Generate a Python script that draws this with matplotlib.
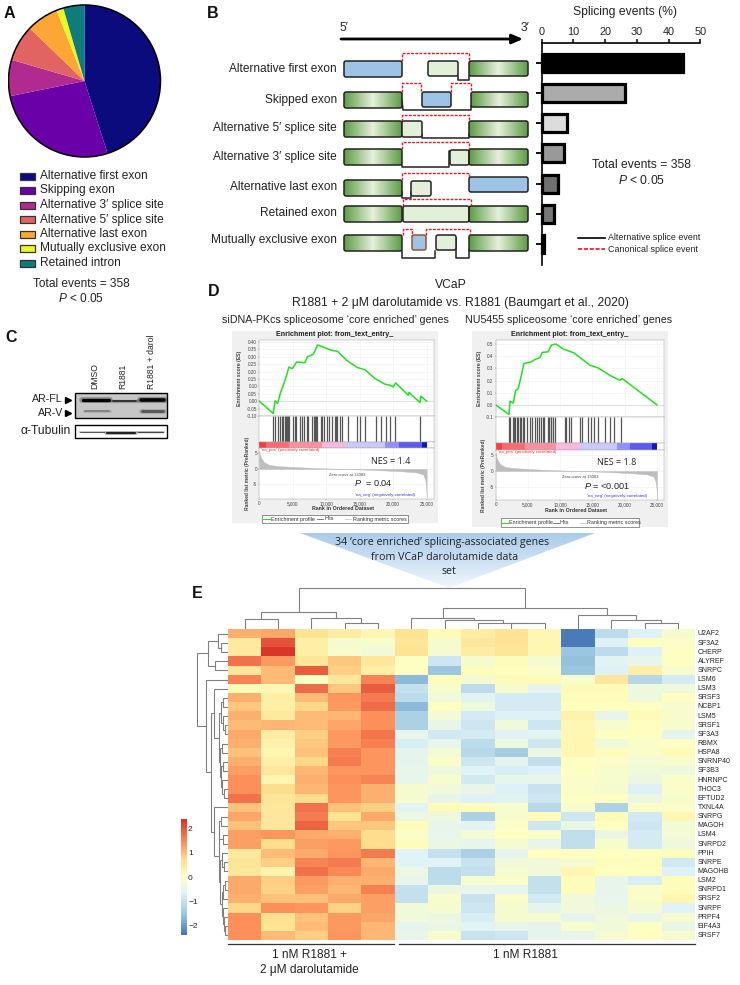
import numpy as np
import matplotlib
matplotlib.use('Agg')
import matplotlib.pyplot as plt
from matplotlib.colors import LinearSegmentedColormap
from matplotlib.patches import Polygon, Rectangle, FancyBboxPatch, Circle

plt.rcParams['font.family'] = ['Liberation Sans', 'DejaVu Sans']
plt.rcParams['mathtext.fontset'] = 'custom'
plt.rcParams['mathtext.rm'] = 'Liberation Sans'
plt.rcParams['mathtext.it'] = 'Liberation Sans:italic'
plt.rcParams['mathtext.bf'] = 'Liberation Sans:bold'

W, H = 740, 985

# ---------- data ----------
pie_labels = ['Alternative first exon', 'Skipping exon', 'Alternative 3′ splice site',
              'Alternative 5′ splice site', 'Alternative last exon',
              'Mutually exclusive exon', 'Retained intron']
pie_values = [45.1, 26.7, 7.7, 7.7, 6.8, 1.5, 4.5]
pie_colors = ['#0B0B7E', '#6A00A8', '#B12A90', '#E16462', '#FCA636', '#EFF51F', '#0F7B7B']

bar_labels = ['Alternative first exon', 'Skipped exon', 'Alternative 5′ splice site',
              'Alternative 3′ splice site', 'Alternative last exon', 'Retained exon',
              'Mutually exclusive exon']
bar_values = [44.5, 26.2, 8.0, 7.1, 5.1, 3.8, 0.7]
bar_fills = ['#000000', '#ABABAB', '#DCDCDC', '#999999', '#707070', '#777777', '#DDDDDD']
bar_ticks = [0, 10, 20, 30, 40, 50]

left_es_rank = [0, 2090, 2340, 2740, 3190, 3590, 3980, 4430, 4930, 5580, 6820, 7170, 8070, 8710,
                9310, 10800, 11700, 13050, 14690, 15790, 17280, 18770, 19520, 20020, 20370,
                22260, 22360, 24000, 24150, 25000]
left_es = [0, -.083, .002, -.015, .06, .108, .16, .231, .22, .265, .26, .30, .317, .38, .37, .344,
           .337, .276, .227, .213, .153, .115, .108, .097, .124, .04, .06, -.009, .034, 0]
right_es_rank = [0, 2060, 2220, 2730, 3090, 3500, 3920, 4380, 5570, 6080, 6860, 7220, 8140, 8660,
                 9330, 10460, 12110, 14590, 15880, 17680, 19230, 19640, 25000]
right_es = [0, -.08, .03, .014, .119, .133, .229, .34, .354, .373, .387, .431, .436, .492, .5,
            .459, .428, .326, .304, .243, .202, .215, 0]
left_hits = [1990, 2340, 2740, 3090, 3340, 3590, 3830, 3980, 4180, 4330, 4430, 5080, 5330, 5480, 6080,
             6420, 6720, 7070, 7320, 7920, 8120, 8320, 8470, 8620, 9210, 9410, 9660, 10060, 10460,
             10810, 11300, 11400, 11600, 12050, 12300, 13300, 14540, 15040, 15740, 17430, 18130,
             18870, 19520, 20270, 24000]
right_hits = [2010, 2210, 2630, 2830, 3040, 3240, 3500, 3760, 3970, 4170, 4380, 4890, 5300, 5560, 6130,
              6440, 6750, 6950, 7260, 7470, 8140, 8290, 8500, 8650, 8910, 9220, 10710, 10970, 11380,
              11740, 13130, 13440, 14320, 14830, 15190, 15860, 16890, 17660, 18280, 19470]
metric_rank = [0, 100, 300, 700, 1500, 3000, 6000, 10000, 13083, 17000, 21000, 23500, 24500, 24800, 24950, 25000]
metric_val = [5.8, 4.6, 3.5, 2.2, 1.3, .9, .55, .2, 0, -.3, -.7, -1.1, -1.8, -3.5, -6, -9]
band_edges = [0, 1000, 4500, 9300, 13000, 18800, 20800, 24300, 25000]
band_colors = ['#FF3C3C', '#FF6A6F', '#FF8F9F', '#F9B9DC', '#C9C9FB', '#8F8FFF', '#5A5AF0', '#1414C0']

genes = ['U2AF2', 'SF3A2', 'CHERP', 'ALYREF', 'SNRPC', 'LSM6', 'LSM3', 'SRSF3', 'NCBP1', 'LSM5', 'SRSF1',
         'SF3A3', 'RBMX', 'HSPA8', 'SNRNP40', 'SF3B3', 'HNRNPC', 'THOC3', 'EFTUD2', 'TXNL4A', 'SNRPG',
         'MAGOH', 'LSM4', 'SNRPD2', 'PPIH', 'SNRPE', 'MAGOHB', 'LSM2', 'SNRPD1', 'SRSF2', 'SNRPF', 'PRPF4',
         'EIF4A3', 'SRSF7']
heat = [
    [1.1, 1.2, .6, .4, .15, .6, .1, .4, .6, .15, -2.3, -1.1, -.7, -.2],
    [.45, 2.0, .35, -.2, -.15, .55, -.2, .5, .6, .15, -2.3, -.7, 0, -.1],
    [.45, 2.3, .35, -.15, -.3, .6, -.2, .4, .55, .15, -1.5, -1.1, -.7, -.05],
    [1.7, 1.3, .55, .9, .5, -.05, -.9, -.2, .05, -.2, -1.6, -.6, -.5, -.05],
    [.5, 1.0, 1.9, .85, .35, -.05, -1.5, .05, 0, -.1, -1.5, -.7, .35, -.15],
    [1.5, 1.0, -.05, .5, 1.5, -1.7, .05, -.25, .1, .1, -.15, .5, -1.2, -.8],
    [.1, .15, 1.75, .9, 1.9, -1.0, -.15, -1.1, -.2, -.55, .1, .1, -.35, -.3],
    [1.1, .35, 1.0, 1.35, 1.6, -1.1, -.3, -.6, -.8, -.8, .05, .05, -.35, -.05],
    [.9, .35, .75, 1.3, 1.75, -1.7, -.05, -.35, -.8, -.8, 0, 0, 0, -.15],
    [1.1, .45, 1.0, 1.05, 1.4, -1.3, -.25, -.8, -.7, -.7, .25, -.5, .1, -.15],
    [1.0, 1.05, 1.0, 1.2, 1.4, -1.3, -.45, -.9, -.3, -.9, .15, -.15, 0, -.15],
    [1.15, .4, .85, 1.3, 1.65, -.5, -.85, -.8, -.7, -.6, .15, -.05, 0, -.55],
    [1.1, .3, .9, 1.3, 1.55, -.75, -.5, -1.1, -.35, -.9, .2, -.3, -.1, -.05],
    [.95, .2, .95, 1.55, 1.35, -.55, -.25, -1.15, -1.4, -.4, .15, .05, -.1, .1],
    [1.1, .35, .75, 1.6, 1.35, -.55, -.1, -.9, -.55, -1.05, -.05, -.1, -.25, -.15],
    [1.25, .5, 1.05, 1.35, 1.35, -.5, -.35, -.65, -.75, -.7, -.05, -.15, -.3, -.35],
    [1.4, .2, 1.1, 1.4, 1.5, -.5, -.15, -.85, -.5, -.5, -.1, -.15, -.4, -.1],
    [1.4, .7, 1.05, 1.35, 1.1, -.2, -.3, -.45, -.7, -.95, -.1, -.2, -.7, -.1],
    [1.7, .55, .7, 1.35, 1.1, -.2, -.5, -.7, -.6, -.9, -.05, -.05, -.4, -.15],
    [.95, .5, 1.7, .95, .85, -.6, .1, .05, -.15, -1.15, -.15, -1.3, -.1, -.1],
    [1.2, .5, 1.6, .6, 1.15, -.4, -.35, -1.3, -.15, .1, -.9, .1, -.85, .15],
    [.95, .5, 1.85, .9, .9, .05, -.5, -.6, -.1, -.9, -.45, 0, -.9, -.25],
    [1.25, 1.35, 1.15, 1.1, .7, -.1, -.5, -.25, -.05, -.1, -1.05, -.4, -.8, -.25],
    [1.25, .7, 1.25, 1.3, .7, .05, -.4, -.5, -.2, -.5, -1.05, -.15, -.8, -.35],
    [.45, 1.0, 1.15, 1.35, 1.6, -.65, -1.0, -1.3, -.55, 0, 0, 0, 0, .05],
    [.55, .85, 1.5, 1.6, 1.05, -.65, -.65, -.95, -.3, -.3, -.2, .05, .05, -.85],
    [.5, .25, 1.7, 1.45, 1.15, -.4, -1.1, -1.0, -.2, -.3, .2, 0, 0, -.7],
    [1.15, .85, 1.3, 1.1, 1.1, -.5, -1.1, -.2, -.1, -1.0, .05, -.5, -.75, .05],
    [1.15, .8, 1.25, 1.05, 1.55, -1.0, -.4, -.5, -.55, -1.0, .05, -.5, -.1, .05],
    [1.1, .95, .95, 1.15, 1.25, -1.0, -.15, -.95, -.1, -.85, -.3, -.5, -.1, .2],
    [.75, 1.4, 1.35, .8, 1.25, -.3, -.2, -.9, -.2, -.55, -.3, -.4, -.2, -.65],
    [1.4, .65, .95, 1.3, 1.2, -.3, -.4, -.75, -.2, -.2, -.55, -.3, -.5, -.2],
    [1.4, .6, 1.0, 1.3, 1.05, -.55, -.45, -.6, -.5, -.55, -.15, -.3, -.05, -.45],
    [1.4, 1.0, .85, 1.35, 1.05, -.5, -.15, -.95, -.9, -.55, -.5, -.2, -.05, -.2],
]
col_tree = (41, (17.3, (10.7, 0, 1), (11.7, 2, (6.7, 3, 4))),
            (21.7, (11.7, 5, (9, 6, (6.7, 7, (6.7, 8, 9)))), (14, 10, (9, 11, (6.7, 12, 13)))))
row_s1 = (9, (7, (5, 7, 8), (5.5, 9, (3, 10, 11))),
          (8, (6, 12, 13), (7, (5, 14, 15), (6, 16, (4, 17, 18)))))
row_s2 = (8.7, (7, 20, 21), (5, 22, 23))
row_s3 = (8, (6, 24, (4, 25, 26)),
          (6.5, (5.5, (3, 27, 28), 29), (5.5, 30, (4, 31, (3, 32, 33)))))
row_tree = (31, (20, (10, 0, (7, 1, 2)), (13, 3, 4)),
            (22, 5, (17, (14, 6, row_s1), (14, 19, (9.5, row_s2, row_s3)))))
heat_limit = 2.37
heat_cmap = LinearSegmentedColormap.from_list(
    'rdylbu', [(0, '#4575B4'), (.15, '#91BFDB'), (.36, '#E0F3F8'), (.5, '#FFFFBF'),
               (.645, '#FEE090'), (.80, '#FC8D59'), (1, '#D73027')])

# ---------- helpers ----------
fig = plt.figure(figsize=(W / 100, H / 100), dpi=100, facecolor='white')


def px_axes(x0, y0, x1, y1, **kw):
    return fig.add_axes([x0 / W, 1 - y1 / H, (x1 - x0) / W, (y1 - y0) / H], **kw)


def overlay(z):
    a = px_axes(0, 0, W, H, zorder=z)
    a.set_xlim(0, W)
    a.set_ylim(H, 0)
    a.autoscale(False)
    a.axis('off')
    a.patch.set_alpha(0)
    return a


bg = overlay(0)
fg = overlay(20)


def txt(x, y, s, size=8.55, ha='center', va='center', a=None, **kw):
    (a or fg).text(x, y, s, fontsize=size, ha=ha, va=va, **kw)


# ---------- panel letters ----------
for lab, x, y in [('A', 9.5, 13), ('B', 213, 13), ('C', 11, 338), ('D', 214, 292), ('E', 197.5, 594)]:
    txt(x, y, lab, size=11.5, weight='bold', color='#111')

# ---------- A ----------
ax = px_axes(7.5, 4, 161.5, 158)
ax.pie(pie_values, colors=pie_colors, startangle=90, counterclock=False, radius=1)
ax.add_patch(Circle((0, 0), 1, fill=False, ec='black', lw=1.1))
ax.set_xlim(-1.013, 1.013)
ax.set_ylim(-1.013, 1.013)
ax.set_aspect('auto')
for i, (lab, col) in enumerate(zip(pie_labels, pie_colors)):
    y = 176 + i * 14.5
    fg.add_patch(Rectangle((19.5, y - 3.5), 15.5, 7, fc=col, ec='#333', lw=0.9))
    txt(40, y, lab, ha='left', color='#222')
txt(81, 284, 'Total events = 358', color='#222')
txt(81, 298, r'$\mathit{P}$ < 0.05', color='#222')

# ---------- B schematic ----------
GREEN = LinearSegmentedColormap.from_list('g', ['#5E9D46', '#E6F1DC', '#5E9D46'])
grad = np.linspace(0, 1, 64).reshape(1, -1)


def exon(x0, x1, y0, y1, kind='g', ec='#222'):
    fill = {'g': 'none', 'b': '#9DC3E6', 'l': '#E2EFD9'}[kind]
    p = FancyBboxPatch((x0 + 1, y0 + 1), x1 - x0 - 2, y1 - y0 - 2, boxstyle='round,pad=1,rounding_size=2',
                       fc=fill, ec=ec, lw=1.1, zorder=4, mutation_aspect=1)
    fg.add_patch(p)
    if kind == 'g':
        im = fg.imshow(grad, cmap=GREEN, extent=(x0, x1, y1, y0), aspect='auto', zorder=3)
        im.set_clip_path(p)


def path(xs, ys, red=False):
    if red:
        fg.plot(xs, ys, color='#E8141C', lw=1.0, ls=(0, (2, 1)), zorder=5)
    else:
        fg.plot(xs, ys, color='#222', lw=1.1, zorder=2)


rows = [
    [(344, 402, 61, 77, 'b'), (428, 458, 61, 76, 'l'), (469, 528, 61, 76, 'g')],
    [(344, 402, 92, 108, 'g'), (422, 451, 92, 107, 'b'), (471, 528, 92, 107, 'g')],
    [(344, 402, 121, 137, 'g'), (402, 422, 121, 137, 'l'), (469, 528, 121, 137, 'g')],
    [(344, 402, 149, 165, 'g'), (450, 469, 150, 165, 'l'), (469, 528, 149, 165, 'g')],
    [(344, 402, 180, 196, 'g'), (411, 431, 181, 196, 'l'), (469, 528, 177, 192, 'b')],
    [(344, 402, 206, 222, 'g'), (403, 469, 206, 222, 'l'), (469, 528, 206, 222, 'g')],
    [(344, 402, 235, 251, 'g'), (436, 456, 235, 250, 'l'), (469, 528, 235, 251, 'g')],
]
for r in rows:
    for x0, x1, y0, y1, k in r:
        exon(x0, x1, y0, y1, k)
exon(412, 426, 235, 250, 'b', ec='#A0522D')
black_paths = [
    ([458, 458, 469, 469], [76, 80, 80, 76]),
    ([402, 403, 471, 471], [100, 110, 110, 106]),
    ([422, 422, 469, 469], [134, 138, 138, 134]),
    ([402, 402, 449, 449, 452], [165, 167, 167, 151, 151]),
    ([402, 402, 411, 411], [192, 198, 198, 192]),
    ([402, 402, 435, 435], [251, 258, 258, 251]),
    ([456, 456, 469, 469], [238, 258, 258, 250]),
]
red_paths = [
    ([402, 402, 469, 469], [61, 53, 53, 61]),
    ([402, 402, 421, 421], [92, 83, 83, 92]),
    ([451, 451, 471, 471], [92, 83, 83, 92]),
    ([402, 402, 469, 469], [121, 115, 115, 121]),
    ([402, 402, 469, 469], [149, 142, 142, 149]),
    ([402, 402, 469, 469], [180, 173, 173, 177]),
    ([403, 403, 471, 471], [206, 199, 199, 206]),
    ([403, 403, 412, 412], [235, 228.5, 228.5, 235]),
    ([426, 426, 470, 470], [235, 228.5, 228.5, 235]),
]
for xs, ys in black_paths:
    path(xs, ys)
for xs, ys in red_paths:
    path(xs, ys, red=True)
fg.annotate('', xy=(523, 39), xytext=(341, 39),
            arrowprops=dict(arrowstyle='-|>,head_length=0.65,head_width=0.28', color='black', lw=2, shrinkA=0, shrinkB=0))
txt(344, 28, '5′', color='#222')
txt(525, 28, '3′', color='#222')
for lab, y in zip(bar_labels, [69, 100, 128, 157, 187, 213, 240]):
    txt(337, y, lab, ha='right', color='#222')

# ---------- B bars ----------
ax = px_axes(541.7, 43, 700.3, 265, zorder=5)
pos = list(range(len(bar_values)))
ax.barh(pos, bar_values, height=0.6, color=bar_fills, edgecolor='black', linewidth=2.3, clip_on=False)
ax.set_xlim(0, 50)
ax.set_ylim(6.7, -0.66)
ax.xaxis.tick_top()
ax.set_xticks(bar_ticks)
ax.set_yticks(pos)
ax.set_yticklabels([])
ax.tick_params(axis='x', length=3, width=1.1, labelsize=7.8, pad=1.5, labelcolor='#222')
ax.tick_params(axis='y', length=4.3, width=1.3)
for s in ['right', 'bottom']:
    ax.spines[s].set_visible(False)
for s in ['top', 'left']:
    ax.spines[s].set_linewidth(1.2)
ax.patch.set_alpha(0)
txt(625, 12, 'Splicing events (%)', size=8.7, color='#222')
txt(641.5, 165, 'Total events = 358', size=8.7, color='#222')
txt(641.5, 180, r'$\mathit{P}$ < 0.05', size=8.7, color='#222')
fg.plot([578, 605], [238, 238], color='black', lw=1.2)
fg.plot([578, 605], [249, 249], color='#E8141C', lw=1.2, ls=(0, (2.5, 1)))
txt(608, 238, 'Alternative splice event', size=6.4, ha='left', color='#222')
txt(608, 249, 'Canonical splice event', size=6.4, ha='left', color='#222')

# ---------- C ----------
fg.add_patch(Rectangle((75, 393), 91.5, 25, fc='#C6C6C6', ec='black', lw=1, zorder=1))
fg.add_patch(Rectangle((75, 425), 91.5, 13, fc='white', ec='black', lw=1, zorder=1))
blot = [(82, 110, 400, 2.4, '#050505'), (112, 137, 400.5, 1.4, '#333'), (140, 165, 400, 2.6, '#050505'),
        (84, 110, 411, 1.3, '#808080'), (141, 164, 411, 2.0, '#555'),
        (79, 105, 432, 0.8, '#555'), (106, 136, 432.5, 1.6, '#222'), (137, 164, 432, 0.9, '#444')]
for x0, x1, y, lw, c in blot:
    fg.plot([x0, x1], [y, y], color=c, lw=lw * 1.7, alpha=0.3, solid_capstyle='round', zorder=2)
    fg.plot([x0 + 1, x1 - 1], [y, y], color=c, lw=lw, solid_capstyle='round', zorder=2)
for lab, x in [('DMSO', 95), ('R1881', 123), ('R1881 + darol', 152)]:
    txt(x, 389, lab, size=6.2, rotation=90, va='bottom', color='#222')
txt(63, 399.5, 'AR-FL', ha='right', size=7.7, color='#222')
txt(63, 413, 'AR-V', ha='right', size=7.7, color='#222')
fg.plot([67.5, 67.5], [399.5, 412.5], ls='', marker='>', ms=4.8, color='black')
txt(71, 431.5, 'α-Tubulin', ha='right', size=8.7, color='#222')

# ---------- D headers ----------
txt(451, 285, 'VCaP', size=8.7, color='#222')
txt(460, 303, 'R1881 + 2 μM darolutamide vs. R1881 (Baumgart et al., 2020)', size=8.7, color='#222')
txt(335.5, 320, 'siDNA-PKcs spliceosome ‘core enriched’ genes', size=7.65, color='#222')
txt(569, 320, 'NU5455 spliceosome ‘core enriched’ genes', size=7.65, color='#222')


def gsea(box, x0, xr, es_y, hit_y, met_y, es_x, es_v, es_lim, es_ticks, tick_fmt, hits, met_lim,
         title_x, ylab_x, ylab2_x, leg, nes, p, note_x):
    bg.add_patch(Rectangle((box[0], box[1]), box[2] - box[0], box[3] - box[1], fc='#F0F0F0', ec='none'))
    txt(title_x, 334.5, 'Enrichment plot: from_text_entry_', size=5.1, weight='bold', color='#222')
    grid = '#EFEFF3'
    ta = px_axes(x0, es_y[0], xr, es_y[1], zorder=3)
    ta.plot(es_x, es_v, color='#22E020', lw=1.1)
    ta.axhline(0, color='#BBBBBB', lw=0.5, zorder=0)
    ta.set_xlim(0, 26100)
    ta.set_ylim(*es_lim)
    ta.set_yticks(es_ticks)
    ta.set_yticklabels([tick_fmt % v for v in es_ticks])
    ta.set_xticks([0, 5000, 10000, 15000, 20000, 25000])
    ta.set_xticklabels([])
    ta.grid(color=grid, lw=0.4)
    ha = px_axes(x0, hit_y[0], xr, hit_y[1], zorder=3)
    ha.vlines(hits, 0, 1, color='#555', lw=0.9)
    ha.set_xlim(0, 26100)
    ha.set_ylim(0, 1)
    ha.set_xticks([])
    ha.set_yticks([])
    ba = px_axes(x0, hit_y[1], xr, met_y[0], zorder=3)
    for i, c in enumerate(band_colors):
        ba.axvspan(band_edges[i], band_edges[i + 1], color=c, lw=0)
    ba.set_xlim(0, 26100)
    ba.set_xticks([])
    ba.set_yticks([])
    ma = px_axes(x0, met_y[0], xr, met_y[1], zorder=3)
    ma.fill_between(metric_rank, metric_val, 0, color='#BDBDBD', lw=0.3)
    ma.set_xlim(0, 26100)
    ma.set_ylim(*met_lim)
    ma.set_yticks([5, 0, -5])
    ma.set_yticklabels(['5', '0', '-5'])
    ma.set_xticks([0, 5000, 10000, 15000, 20000, 25000])
    ma.set_xticklabels(['0', '5,000', '10,000', '15,000', '20,000', '25,000'])
    ma.grid(color=grid, lw=0.4)
    ma.set_axisbelow(True)
    for a in (ta, ha, ba, ma):
        a.tick_params(length=1.0, width=0.3, labelsize=3.3, pad=0.5, color='#666', labelcolor='#444')
        for s in a.spines.values():
            s.set_linewidth(0.35)
            s.set_color('#A8A8A8')
    unit = (xr - x0) / 26100
    txt(x0 + 300 * unit, met_y[0] + 2, "'na_pos' (positively correlated)", ha='left', size=3.2, color='#F03030')
    txt(x0 + 13083 * unit, met_y[0] + 27.5, 'Zero cross at 13083', size=3, color='#444')
    txt(x0 + note_x * unit, met_y[1] - 4, "'na_neg' (negatively correlated)", size=3.2, color='#3A3AF0')
    txt(ylab_x, (es_y[0] + es_y[1]) / 2, 'Enrichment score (ES)', size=3.7, rotation=90, color='#444', weight='bold')
    txt(ylab2_x, (met_y[0] + met_y[1]) / 2, 'Ranked list metric (PreRanked)', size=3.5, rotation=90, color='#444', weight='bold')
    txt(x0 + 12500 * unit, met_y[1] + 10, 'Rank in Ordered Dataset', size=3.8, color='#333', weight='bold')
    lx0, lx1, ly0, ly1 = leg
    fg.add_patch(Rectangle((lx0, ly0), lx1 - lx0, ly1 - ly0, fc='white', ec='#666', lw=0.5))
    ym = (ly0 + ly1) / 2
    f = (lx1 - lx0) / 145.0
    fg.plot([lx0 + f, lx0 + 8 * f], [ym, ym], color='#22E020', lw=0.8)
    txt(lx0 + 9 * f, ym, 'Enrichment profile', size=3.9, ha='left', color='#333')
    fg.plot([lx0 + 55 * f, lx0 + 61 * f], [ym, ym], color='#444', lw=0.5)
    txt(lx0 + 62 * f, ym, 'Hits', size=3.9, ha='left', color='#333')
    fg.plot([lx0 + 83 * f, lx0 + 89 * f], [ym, ym], color='#BBBBBB', lw=0.5)
    txt(lx0 + 91 * f, ym, 'Ranking metric scores', size=3.9, ha='left', color='#333')
    txt(nes[0], nes[1], nes[2], size=6.5, family='Open Sans', color='#222')
    txt(p[0], p[1], p[2], size=6.6, color='#222')


gsea((232, 331, 438, 523), 259.3, 434, (340, 416), (416, 442), (448, 499), left_es_rank, left_es,
     (-.10, .4135), [-.10, -.05, 0, .05, .10, .15, .20, .25, .30, .35, .40], '%.2f', left_hits, (-9.68, 6.77),
     335, 239, 247, (262, 407.7, 515, 523), (391, 461, 'NES = 1.4'), (373, 482.5, r'$\mathit{P}$  = 0.04'), 18800)
gsea((472, 331, 668, 527), 495.7, 664, (340, 417), (417, 443), (450, 500), right_es_rank, right_es,
     (-.10, .533), [-.1, 0, .1, .2, .3, .4, .5], '%.1f', right_hits, (-9.35, 6.77),
     570, 479, 483, (500.7, 639, 518, 527), (617, 462.5, 'NES = 1.8'), (607, 486, r'$\mathit{P}$ = <0.001'), 18800)

# ---------- funnel ----------
tri = Polygon([(300, 533), (595, 533), (449, 588)], closed=True, fc='none', ec='none', transform=bg.transData)
bg.add_patch(tri)
BLUE = LinearSegmentedColormap.from_list('b', ['#A9CBEA', '#F1F7FC'])
im = bg.imshow(np.linspace(0, 1, 64).reshape(-1, 1), cmap=BLUE, extent=(300, 595, 588, 533), aspect='auto')
im.set_clip_path(tri)
txt(442.5, 542, '34 ‘core enriched’ splicing-associated genes', size=7.65, family='Open Sans', color='#222')
txt(444.5, 557, 'from VCaP darolutamide data', size=7.65, family='Open Sans', color='#222')
txt(449, 572, 'set', size=7.65, family='Open Sans', color='#222')

# ---------- E ----------
hx0, hx1, hy0, hy1 = 228, 694.5, 629.3, 940
ax = px_axes(hx0, hy0, hx1, hy1, zorder=3)
ax.imshow(np.array(heat), cmap=heat_cmap, vmin=-heat_limit, vmax=heat_limit, aspect='auto', interpolation='nearest')
ax.axis('off')
for i, g in enumerate(genes):
    txt(697.7, hy0 + (i + .5) * (hy1 - hy0) / len(genes), g, ha='left', size=5.0, color='#222')


def draw_tree(node, a, vertical):
    if not isinstance(node, tuple):
        return float(node), 0.0
    h, l, r = node
    pl, hl = draw_tree(l, a, vertical)
    pr, hr = draw_tree(r, a, vertical)
    if vertical:
        a.plot([pl, pl, pr, pr], [hl, h, h, hr], color='#808080', lw=0.8, solid_joinstyle='miter')
    else:
        a.plot([hl, h, h, hr], [pl, pl, pr, pr], color='#808080', lw=0.8, solid_joinstyle='miter')
    return (pl + pr) / 2, h


ta = px_axes(hx0, 586, hx1, hy0, zorder=3)
draw_tree(col_tree, ta, True)
ta.set_xlim(-.5, 13.5)
ta.set_ylim(0, hy0 - 586)
ta.axis('off')
la = px_axes(193, hy0, hx0, hy1, zorder=3)
draw_tree(row_tree, la, False)
la.set_ylim(33.5, -.5)
la.set_xlim(35, 0)
la.axis('off')

ca = px_axes(180.7, 819, 186, 935, zorder=3)
ca.imshow(np.linspace(heat_limit, -heat_limit, 200).reshape(-1, 1), cmap=heat_cmap, vmin=-heat_limit, vmax=heat_limit,
          aspect='auto', extent=(0, 1, -heat_limit, heat_limit))
ca.set_xticks([])
ca.yaxis.tick_right()
ca.set_yticks([2, 1, 0, -1, -2])
ca.set_yticklabels(['2', '1', '0', '−1', '−2'])
ca.tick_params(length=0, labelsize=6, pad=1.5, labelcolor='#222')
for s in ca.spines.values():
    s.set_visible(False)

fg.plot([228, 394], [944.3, 944.3], color='#333', lw=0.9)
fg.plot([399, 695], [944.3, 944.3], color='#333', lw=0.9)
txt(309, 955, '1 nM R1881 +', size=8.6, color='#222')
txt(309, 969.5, '2 μM darolutamide', size=8.6, color='#222')
txt(525.7, 955, '1 nM R1881', size=8.6, color='#222')

fig.savefig('out.png', dpi=100, facecolor='white')
